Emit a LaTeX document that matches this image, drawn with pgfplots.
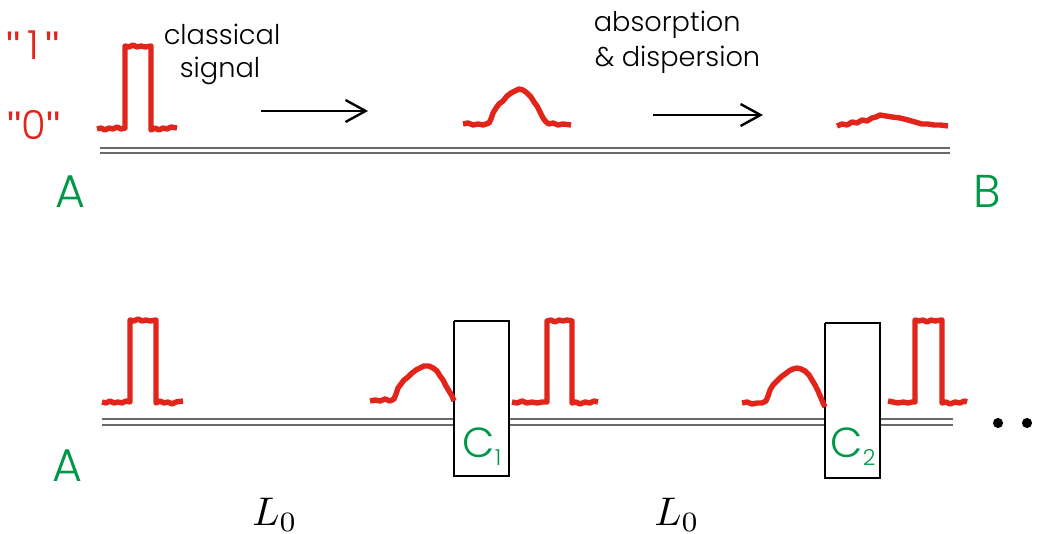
\documentclass[border=0pt]{standalone}
\usepackage{pgfplots}
\pgfplotsset{compat=1.18}
\usepackage{fontspec}
\setmainfont{Poppins Light}
\newfontfamily\qfont{Liberation Sans}
\usetikzlibrary{arrows.meta}
\definecolor{sigred}{RGB}{225,37,27}
\definecolor{labgreen}{RGB}{0,152,70}
\definecolor{wire}{RGB}{105,105,105}
\begin{document}
\begin{tikzpicture}
\begin{axis}[
  scale only axis, width=261pt, height=133.25pt,
  xmin=0, xmax=1044, ymin=0, ymax=533, y dir=reverse,
  hide axis, clip=false,
  pulse/.style={sigred, line width=1.35pt, line join=round, no marks},
  wireline/.style={wire, line width=0.5pt, no marks},
  boxline/.style={black, line width=0.35pt, no marks},
]
% ---------- top wire ----------
\addplot[wireline] coordinates {(100,148) (950,148)};
\addplot[wireline] coordinates {(100,153) (950,153)};
% top pulses
\addplot[pulse] coordinates {(97,129)(101,128)(105,130)(109,128)(113,129)(117,127)(121,129)(125,128)(125,46)(129,47)(133,45)(137,47)(141,46)(145,47)(151,46)(151,130)(155,128)(159,130)(163,128)(167,129)(171,127)(177,128)};
\addplot[pulse] coordinates {(463,124)(468,123)(473,125)(478,124)(483,125)(489,123)(491,119)(493,113)(496,108)(499,104)(503,101)(507,96)(511,93)(515,91)(519,89)(523,90)(527,93)(531,97)(534,102)(537,106)(540,112)(543,118)(546,122)(549,124)(553,123)(558,125)(563,124)(571,125)};
\addplot[pulse] coordinates {(837,126)(842,124)(847,125)(852,122)(857,123)(862,120)(867,121)(872,118)(876,117)(880,115)(886,116)(892,117)(900,118)(908,120)(915,122)(922,124)(928,124)(934,125)(940,125)(948,126)};
% arrows
\addplot[black, line width=0.6pt, no marks, -{Straight Barb[length=5pt,width=5.5pt]}] coordinates {(261,111)(368,111)};
\addplot[black, line width=0.6pt, no marks, -{Straight Barb[length=5pt,width=5.5pt]}] coordinates {(653,115)(763,115)};
% top labels
\node[sigred, anchor=base, font=\fontsize{10}{10}\selectfont] at (axis cs:33,60) {{\qfont"}\,1\,{\qfont"}};
\node[sigred, anchor=base, font=\fontsize{10}{10}\selectfont] at (axis cs:34,140) {{\qfont"}0{\qfont"}};
\node[black, anchor=base, font=\fontsize{6.8}{8}\selectfont] at (axis cs:222,45) {classical};
\node[black, anchor=base, font=\fontsize{6.8}{8}\selectfont] at (axis cs:220,78) {signal};
\node[black, anchor=base west, inner xsep=0pt, font=\fontsize{6.8}{8}\selectfont] at (axis cs:593,32) {absorption};
\node[black, anchor=base west, inner xsep=0pt, font=\fontsize{6.8}{8}\selectfont] at (axis cs:594,67) {\& dispersion};
\node[labgreen, anchor=base, font=\fontsize{11.5}{12}\selectfont] at (axis cs:70,208) {A};
\node[labgreen, anchor=base, font=\fontsize{11.5}{12}\selectfont] at (axis cs:987,208) {B};
% ---------- bottom wire ----------
\addplot[wireline] coordinates {(102,419) (454,419)};
\addplot[wireline] coordinates {(102,425) (454,425)};
\addplot[wireline] coordinates {(509,419) (825,419)};
\addplot[wireline] coordinates {(509,425) (825,425)};
\addplot[wireline] coordinates {(880,419) (953,419)};
\addplot[wireline] coordinates {(880,425) (953,425)};
% boxes
\addplot[boxline] coordinates {(454,321)(509,321)(509,476)(454,476)(454,321)};
\addplot[boxline] coordinates {(825,323)(880,323)(880,478)(825,478)(825,323)};
% bottom pulses
\addplot[pulse] coordinates {(102,402)(106,403)(110,401)(114,403)(118,402)(122,403)(126,401)(130,402)(130,320)(134,321)(138,319)(142,321)(146,320)(150,321)(156,320)(156,403)(160,401)(164,403)(168,402)(172,404)(176,402)(183,401)};
\addplot[pulse] coordinates {(370,401)(375,400)(380,401)(385,399)(390,401)(394,399)(396,394)(398,388)(401,384)(404,380)(408,377)(412,373)(416,370)(420,368)(424,366)(429,366)(433,368)(437,371)(440,376)(443,380)(446,386)(449,391)(452,396)(454,401)};
\addplot[pulse] coordinates {(512,402)(517,403)(522,401)(527,403)(532,402)(537,403)(542,402)(547,402)(547,321)(551,320)(555,322)(559,320)(563,321)(567,320)(572,321)(572,403)(576,402)(580,404)(585,402)(590,403)(594,401)(598,402)};
\addplot[pulse] coordinates {(742,403)(747,402)(752,404)(757,403)(762,403)(766,401)(768,396)(770,390)(773,385)(777,381)(781,377)(785,374)(789,371)(793,369)(797,368)(801,369)(805,371)(809,375)(812,380)(815,385)(818,391)(821,398)(823,403)(825,407)};
\addplot[pulse] coordinates {(888,401)(893,402)(898,403)(903,402)(908,403)(912,402)(915,402)(915,320)(919,321)(923,320)(927,322)(931,320)(935,321)(942,320)(942,403)(946,402)(950,404)(955,402)(960,403)(964,401)(967,402)};
% dots
\addplot[only marks, mark=*, mark size=1.05pt, black] coordinates {(998,423)(1027,423)};
% bottom labels
\node[labgreen, anchor=base, font=\fontsize{11.5}{12}\selectfont] at (axis cs:67,481) {A};
\node[labgreen, anchor=base, font=\fontsize{10.5}{11}\selectfont] at (axis cs:482,457) {C\raisebox{-2pt}{\fontsize{5.5}{6}\selectfont 1}};
\node[labgreen, anchor=base, font=\fontsize{10.5}{11}\selectfont] at (axis cs:853,457) {C\raisebox{-2pt}{\fontsize{5.5}{6}\selectfont 2}};
\node[black, anchor=base] at (axis cs:275,525) {$L_0$};
\node[black, anchor=base] at (axis cs:677,525) {$L_0$};
\end{axis}
\pgfresetboundingbox
\path (current axis.south west) rectangle (current axis.north east);
\end{tikzpicture}
\end{document}
